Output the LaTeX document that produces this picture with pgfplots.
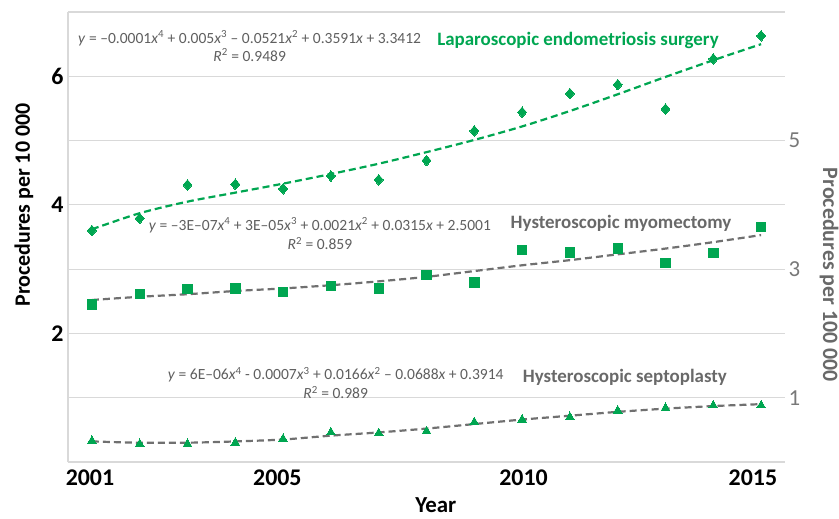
\documentclass[border=0pt]{standalone}
\usepackage{pgfplots}
\pgfplotsset{compat=1.18}
\usepackage{fontspec}
\setmainfont{Carlito}
\definecolor{mgreen}{RGB}{0,166,81}
\definecolor{tgray}{RGB}{105,105,105}
\definecolor{lgray}{RGB}{112,112,112}
\definecolor{eqgray}{RGB}{95,95,95}
\definecolor{rgray}{RGB}{120,120,120}
\definecolor{gridc}{RGB}{217,217,217}

\pgfplotstableread{
year lap myo sep
2001 3.60 2.45 0.33
2002 3.79 2.61 0.28
2003 4.31 2.69 0.28
2004 4.32 2.70 0.30
2005 4.25 2.64 0.36
2006 4.45 2.74 0.46
2007 4.39 2.70 0.45
2008 4.69 2.91 0.48
2009 5.15 2.79 0.62
2010 5.44 3.30 0.66
2011 5.73 3.26 0.70
2012 5.87 3.32 0.80
2013 5.49 3.10 0.84
2014 6.27 3.25 0.88
2015 6.63 3.66 0.88
}\datatable

\pgfplotstableread{
year lap myo sep
2001 3.62 2.52 0.32
2002 3.87 2.57 0.30
2003 4.05 2.61 0.30
2004 4.19 2.66 0.32
2005 4.33 2.70 0.35
2006 4.48 2.75 0.41
2007 4.64 2.81 0.46
2008 4.82 2.88 0.52
2009 5.01 2.97 0.59
2010 5.22 3.06 0.66
2011 5.46 3.14 0.72
2012 5.72 3.23 0.78
2013 5.99 3.32 0.83
2014 6.25 3.42 0.87
2015 6.50 3.53 0.90
}\trendtable

\begin{document}
\begin{tikzpicture}
\useasboundingbox (0,0) rectangle (839bp,519bp);
\begin{axis}[
  at={(68bp,57bp)}, anchor=south west,
  scale only axis, width=717bp, height=450bp,
  xmin=2000.5, xmax=2015.5, ymin=0, ymax=7,
  axis x line*=bottom, axis y line*=left,
  axis line style={draw=gridc, line width=1.2bp, -},
  xtick={2000.96,2004.88,2010.03,2014.83},
  xticklabels={2001,2005,2010,2015},
  ytick={0,1,2,3,4,5,6,7},
  yticklabels={,,2,,4,,6,},
  major tick length=0pt,
  ymajorgrids, grid style={draw=gridc, line width=1.2bp},
  tick label style={font=\fontsize{24}{26}\selectfont\bfseries, text=black},
  xticklabel style={yshift=-4bp},
  yticklabel style={xshift=-1bp},
  xlabel={Year}, ylabel={Procedures per 10 000},
  xlabel style={font=\fontsize{23}{25}\selectfont\bfseries, at={(axis description cs:0.513,-0.097)}, anchor=center},
  ylabel style={font=\fontsize{22}{24}\selectfont\bfseries, at={(axis description cs:-0.0614,0.571)}, anchor=center},
  clip=false,
]
% trend lines
\addplot[mgreen, line width=2.2bp, dash pattern=on 7bp off 4bp, smooth] table[x=year, y=lap] {\trendtable};
\addplot[lgray, line width=2.2bp, dash pattern=on 7bp off 4bp, smooth] table[x=year, y=myo] {\trendtable};
\addplot[lgray, line width=2.2bp, dash pattern=on 7bp off 4bp, smooth] table[x=year, y=sep] {\trendtable};
% data
\addplot[only marks, color=mgreen, mark=diamond*, mark size=5.3bp, mark options={draw=mgreen, fill=mgreen, line width=0pt, xscale=1.13}] table[x=year, y=lap] {\datatable};
\addplot[only marks, color=mgreen, mark=square*, mark size=4.7bp, mark options={draw=mgreen, fill=mgreen, line width=0pt}] table[x=year, y=myo] {\datatable};
\addplot[only marks, color=mgreen, mark=triangle*, mark size=5bp, mark options={draw=mgreen, fill=mgreen, line width=0pt}] table[x=year, y=sep] {\datatable};
% annotations
\node[align=center, text=eqgray, font=\fontsize{15.6}{18}\selectfont, inner sep=0pt] at (axis cs:2004.3,6.47)
  {\textit{y} = –0.0001\textit{x}\textsuperscript{4} + 0.005\textit{x}\textsuperscript{3} – 0.0521\textit{x}\textsuperscript{2} + 0.3591\textit{x} + 3.3412\\ \textit{R}\textsuperscript{2} = 0.9489};
\node[text=mgreen, font=\fontsize{19}{21}\selectfont\bfseries, inner sep=0pt] at (axis cs:2011.17,6.56) {Laparoscopic endometriosis surgery};
\node[align=center, text=eqgray, font=\fontsize{15.6}{19.5}\selectfont, inner sep=0pt] at (axis cs:2005.77,3.55)
  {\textit{y} = –3E–07\textit{x}\textsuperscript{4} + 3E–05\textit{x}\textsuperscript{3} + 0.0021\textit{x}\textsuperscript{2} + 0.0315\textit{x} + 2.5001\\ \textit{R}\textsuperscript{2} = 0.859};
\node[text=tgray, font=\fontsize{19}{21}\selectfont\bfseries, inner sep=0pt] at (axis cs:2012.07,3.72) {Hysteroscopic myomectomy};
\node[align=center, text=eqgray, font=\fontsize{15.6}{19.5}\selectfont, inner sep=0pt] at (axis cs:2006.10,1.23)
  {\textit{y} = 6E–06\textit{x}\textsuperscript{4} - 0.0007\textit{x}\textsuperscript{3} + 0.0166\textit{x}\textsuperscript{2} – 0.0688\textit{x} + 0.3914\\ \textit{R}\textsuperscript{2} = 0.989};
\node[text=tgray, font=\fontsize{19}{21}\selectfont\bfseries, inner sep=0pt] at (axis cs:2012.15,1.32) {Hysteroscopic septoplasty};
\end{axis}
\begin{axis}[
  at={(68bp,57bp)}, anchor=south west,
  scale only axis, width=717bp, height=450bp,
  xmin=2000.5, xmax=2015.5, ymin=0, ymax=7,
  axis x line=none, axis y line*=right,
  axis line style={draw=none},
  ytick={1,3,5}, yticklabels={1,3,5},
  major tick length=0pt,
  tick label style={font=\fontsize{23}{25}\selectfont, text=rgray},
  ylabel={Procedures per 100 000},
  ylabel style={font=\fontsize{22}{24}\selectfont\bfseries, text=tgray, at={(axis description cs:1.0614,0.4156)}, anchor=center, rotate=180},
]
\end{axis}
\end{tikzpicture}
\end{document}
